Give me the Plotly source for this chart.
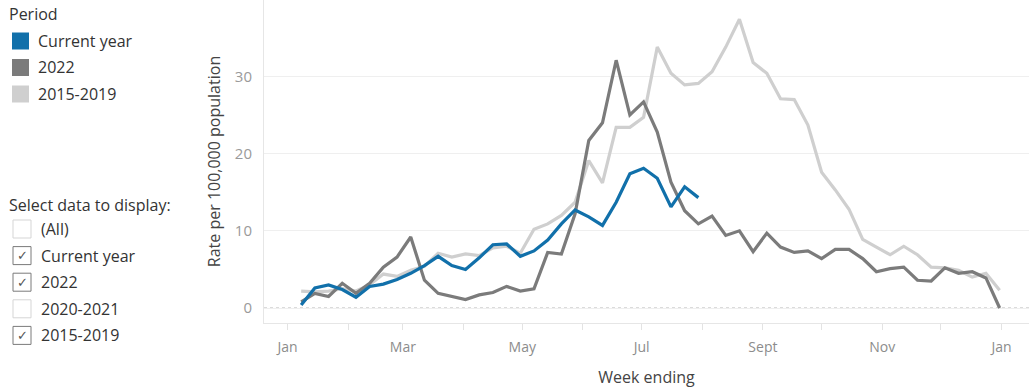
import pandas as pd
import plotly.graph_objects as go

# Weekly rates per 100,000 population (week ending dates)
week_ending = pd.date_range("2023-01-08", periods=52, freq="7D")

current_year = [0.4, 2.6, 3.0, 2.4, 1.4, 2.8, 3.1, 3.7, 4.5, 5.5,
                6.7, 5.5, 5.0, 6.5, 8.2, 8.3, 6.7, 7.4, 8.8, 10.9,
                12.7, 11.8, 10.7, 13.7, 17.4, 18.1, 16.8, 13.1, 15.7, 14.3]

year_2022 = [0.8, 1.9, 1.5, 3.2, 1.9, 3.2, 5.3, 6.6, 9.2, 3.6,
             1.9, 1.5, 1.1, 1.7, 2.0, 2.8, 2.2, 2.5, 7.2, 7.0,
             12.2, 21.7, 24.0, 32.1, 25.0, 26.7, 22.8, 16.3, 12.6, 10.9,
             11.9, 9.4, 10.0, 7.3, 9.7, 7.9, 7.2, 7.4, 6.4, 7.6,
             7.6, 6.4, 4.7, 5.1, 5.3, 3.6, 3.5, 5.2, 4.5, 4.7,
             3.9, 0.0]

years_2015_2019 = [2.2, 2.1, 2.2, 2.5, 2.2, 3.0, 4.4, 4.1, 4.9, 5.4,
                   7.1, 6.6, 7.0, 6.8, 7.8, 8.0, 7.1, 10.2, 10.9, 12.0,
                   13.7, 19.1, 16.2, 23.4, 23.4, 24.7, 33.8, 30.4, 28.9, 29.1,
                   30.6, 33.8, 37.4, 31.8, 30.4, 27.1, 27.0, 23.7, 17.6, 15.3,
                   12.8, 8.9, 7.9, 6.9, 8.0, 6.9, 5.3, 5.2, 4.9, 4.0,
                   4.5, 2.3]

period_names = ["Current year", "2022", "2015-2019"]
period_colors = ["#1170aa", "#7b7b7b", "#cfcfcf"]

filter_options = ["(All)", "Current year", "2022", "2020-2021", "2015-2019"]
filter_checked = [False, True, True, False, True]

month_ticks = pd.date_range("2023-01-01", "2024-01-01", freq="MS")
month_labels = ["Jan", "", "Mar", "", "May", "", "Jul", "", "Sept", "", "Nov", "", "Jan"]

y_ticks = [0, 10, 20, 30]

FONT = "Open Sans"
W, H = 1029, 392
ML, MB = 264, 69
PW, PH = W - ML, H - MB


def xp(px):
    return (px - ML) / PW


def yp(py):
    return (PH - py) / PH


fig = go.Figure()

series = {
    "Current year": current_year,
    "2022": year_2022,
    "2015-2019": years_2015_2019,
}
# draw lightest first so current year sits on top
for name in reversed(period_names):
    vals = series[name]
    color = period_colors[period_names.index(name)]
    fig.add_trace(go.Scatter(
        x=week_ending[:len(vals)], y=vals, mode="lines", name=name,
        line=dict(color=color, width=3.2), showlegend=False,
        hovertemplate="%{x|%d %b}: %{y}<extra>" + name + "</extra>",
    ))

shapes = []
annotations = []

# dotted zero line
shapes.append(dict(type="line", xref="paper", x0=0, x1=1, yref="y", y0=0, y1=0,
                   line=dict(color="#b5b5b5", width=1, dash="dot"), layer="below"))

# Period legend
annotations.append(dict(text="Period", xref="paper", yref="paper", x=xp(7), y=yp(14),
                        xanchor="left", yanchor="middle", showarrow=False,
                        font=dict(family=FONT, size=16, color="#333333")))
for i, (name, color) in enumerate(zip(period_names, period_colors)):
    cy = 41 + i * 26.5
    shapes.append(dict(type="rect", xref="paper", yref="paper",
                       x0=xp(12), x1=xp(29), y0=yp(cy - 8.5), y1=yp(cy + 8.5),
                       fillcolor=color, line=dict(width=0)))
    annotations.append(dict(text=name, xref="paper", yref="paper", x=xp(36), y=yp(cy),
                            xanchor="left", yanchor="middle", showarrow=False,
                            font=dict(family=FONT, size=16, color="#333333")))

# data selector
annotations.append(dict(text="Select data to display:", xref="paper", yref="paper",
                        x=xp(7), y=yp(205), xanchor="left", yanchor="middle",
                        showarrow=False, font=dict(family=FONT, size=16, color="#333333")))
for i, (opt, checked) in enumerate(zip(filter_options, filter_checked)):
    cy = 229 + i * 26.6
    shapes.append(dict(type="rect", xref="paper", yref="paper",
                       x0=xp(13), x1=xp(31), y0=yp(cy - 9), y1=yp(cy + 9),
                       fillcolor="white",
                       line=dict(color="#7a7a7a" if checked else "#d5d5d5", width=1)))
    if checked:
        annotations.append(dict(text="✓", xref="paper", yref="paper", x=xp(22), y=yp(cy),
                                xanchor="center", yanchor="middle", showarrow=False,
                                font=dict(family="DejaVu Sans", size=13, color="#555555")))
    annotations.append(dict(text=opt, xref="paper", yref="paper", x=xp(39), y=yp(cy),
                            xanchor="left", yanchor="middle", showarrow=False,
                            font=dict(family=FONT, size=16, color="#333333")))

fig.update_layout(
    width=W, height=H,
    margin=dict(l=ML, r=0, t=0, b=MB, pad=0),
    paper_bgcolor="white", plot_bgcolor="white",
    font=dict(family=FONT),
    shapes=shapes, annotations=annotations,
    xaxis=dict(
        type="date", range=["2022-12-20", "2024-01-15"],
        tickmode="array", tickvals=month_ticks, ticktext=month_labels,
        ticks="outside", ticklen=6, tickcolor="#e3e3e3",
        ticklabelstandoff=5,
        showgrid=False, zeroline=False,
        showline=True, linecolor="#e6e6e6", linewidth=1,
        tickfont=dict(family=FONT, size=14, color="#8c8c8c"),
        title=dict(text="Week ending", standoff=17,
                   font=dict(family=FONT, size=16, color="#444444")),
    ),
    yaxis=dict(
        range=[-1.94, 39.9],
        tickmode="array", tickvals=y_ticks,
        showgrid=True, gridcolor="#efefef", gridwidth=1, zeroline=False,
        showline=True, linecolor="#e6e6e6", linewidth=1,
        ticks="", ticklabelstandoff=8,
        tickfont=dict(family=FONT, size=15, color="#9a9a9a"),
        title=dict(text="Rate per 100,000 population", standoff=10,
                   font=dict(family=FONT, size=16, color="#444444")),
    ),
)

fig.write_html("out.html")
